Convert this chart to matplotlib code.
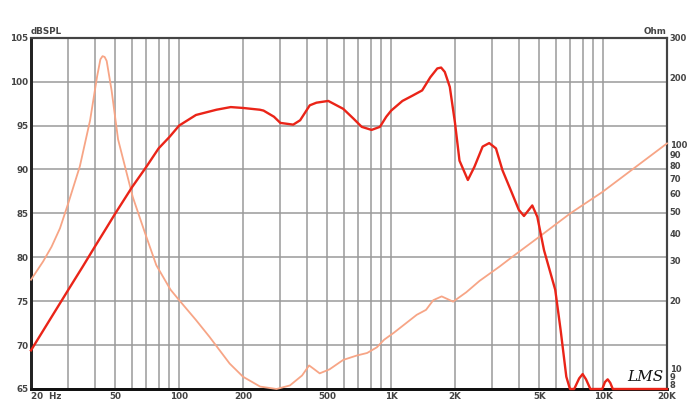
import matplotlib.pyplot as plt
import matplotlib.transforms as mtransforms
import numpy as np
from matplotlib.ticker import FixedLocator, NullFormatter, NullLocator

# SPL response (dB)
spl_freq = [20, 25, 30, 35, 40, 45, 50, 60, 70, 80, 90, 100, 120, 150, 175, 200,
            240, 250, 280, 300, 345, 372, 413, 444, 505, 594, 663, 726, 808, 885,
            948, 1000, 1130, 1260, 1400, 1530, 1650, 1720, 1790, 1890, 2000, 2100,
            2300, 2470, 2700, 2900, 3120, 3350, 3670, 4000, 4230, 4630, 4890, 5260,
            5940, 6300, 6700, 6970, 7300, 7700, 8000, 8300, 8700, 9900, 10200,
            10500, 10800, 11100, 20000]
spl_db = [69.4, 73.2, 76.3, 78.9, 81.2, 83.2, 85.0, 88.0, 90.3, 92.4, 93.7, 95.0,
          96.2, 96.8, 97.1, 97.0, 96.8, 96.7, 96.0, 95.3, 95.1, 95.6, 97.3, 97.6,
          97.8, 96.9, 95.8, 94.85, 94.5, 94.85, 96.0, 96.7, 97.8, 98.4, 99.0,
          100.5, 101.5, 101.6, 101.1, 99.4, 95.3, 91.0, 88.8, 90.3, 92.6, 93.0,
          92.4, 89.9, 87.6, 85.4, 84.7, 85.9, 84.6, 80.8, 76.3, 71.7, 66.4, 65.0,
          65.0, 66.2, 66.7, 66.1, 65.0, 65.0, 65.8, 66.1, 65.7, 65.0, 65.0]

# Impedance (Ohm)
imp_freq = [20, 22.8, 25, 27.4, 30, 34, 38, 41, 42.5, 43.5, 44.5, 45.5, 48, 51.5,
            60.4, 69, 78, 91, 100, 120, 139, 173, 200, 241, 288, 333, 380, 410, 428,
            460, 512, 594, 688, 770, 856, 926, 1030, 1320, 1460, 1580, 1730, 1960,
            2260, 2610, 3230, 3730, 5000, 7000, 9900, 20000]
imp_ohm = [24.7, 29.8, 34.7, 42, 54.5, 79.6, 128, 201, 240, 248, 246, 236, 174, 105,
           58, 40, 28.7, 22.3, 20, 16.3, 13.7, 10.4, 9.08, 8.2, 8.0, 8.3, 9.2, 10.2,
           9.9, 9.4, 9.8, 10.8, 11.3, 11.6, 12.3, 13.3, 14.3, 17.2, 18.1, 20.0,
           20.8, 19.7, 21.7, 24.4, 28.2, 31.3, 38.5, 49, 61, 100.8]

x_ticks = [20, 50, 100, 200, 500, 1000, 2000, 5000, 10000, 20000]
x_labels = ["20  Hz", "50", "100", "200", "500", "1K", "2K", "5K", "10K", "20K"]
y_ticks = [65, 70, 75, 80, 85, 90, 95, 100, 105]
ohm_ticks = [8, 9, 10, 20, 30, 40, 50, 60, 70, 80, 90, 100, 200, 300]

grid_col = "#9a9a9a"
lab_kw = dict(fontsize=6.3, fontweight="bold", color="#444444")

fig = plt.figure(figsize=(6.99, 4.15), dpi=100)
ax = fig.add_axes([31 / 699, 1 - 389 / 415, 636 / 699, 351.3 / 415])
ax2 = ax.twinx()

ax.set_xscale("log")
ax.set_xlim(20, 20000)
ax.set_ylim(65, 105)
ax.set_xticks(x_ticks)
ax.set_xticklabels(x_labels, **lab_kw)
ax.get_xticklabels()[0].set_ha("left")
minor = [m * d for d in (10, 100, 1000) for m in range(2, 10)]
ax.xaxis.set_minor_locator(FixedLocator([f for f in minor if 20 < f < 20000]))
ax.xaxis.set_minor_formatter(NullFormatter())
ax.set_yticks(y_ticks)
ax.set_yticklabels([str(v) for v in y_ticks], **lab_kw)
ax.tick_params(which="both", length=0, pad=2)
ax.grid(True, which="both", axis="x", color=grid_col, lw=1.1)
ax.grid(True, which="major", axis="y", color=grid_col, lw=1.1)
ax.set_axisbelow(True)

ax2.set_yscale("log")
ax2.set_ylim(8, 300)
ax2.yaxis.set_major_locator(FixedLocator(ohm_ticks))
ax2.yaxis.set_minor_locator(NullLocator())
ax2.set_yticklabels([str(v) for v in ohm_ticks], fontsize=6, fontweight="bold",
                    color="#444444")
ax2.tick_params(which="both", length=0, pad=2)
# nudge the crowded low labels apart a little
for lab, dy in zip(ax2.get_yticklabels()[:3], (4, 1.5, -1)):
    lab.set_transform(lab.get_transform() +
                      mtransforms.ScaledTranslation(0, dy / 100, fig.dpi_scale_trans))

ax2.plot(imp_freq, imp_ohm, color="#f7a586", lw=1.3, clip_on=False, zorder=3)
ax2.plot(spl_freq, [8 * 10 ** ((v - 65) / 40 * np.log10(300 / 8)) for v in spl_db],
         color="#ea2418", lw=1.7, clip_on=False, zorder=3)

for a in (ax, ax2):
    a.spines["left"].set_linewidth(2)
    a.spines["left"].set_color("#222222")
    a.spines["bottom"].set_linewidth(2)
    a.spines["bottom"].set_color("#111111")
    a.spines["top"].set_linewidth(1.5)
    a.spines["top"].set_color("#444444")
    a.spines["right"].set_linewidth(1.5)
    a.spines["right"].set_color("#444444")

fig.text(31 / 699, 1 - 31 / 415, "dBSPL", ha="left", va="center", **lab_kw)
fig.text(667 / 699, 1 - 31 / 415, "Ohm", ha="right", va="center", **lab_kw)
fig.text(627 / 699, 1 - 377 / 415, "LMS", ha="left", va="center", fontsize=11,
         fontstyle="italic", family="DejaVu Serif", color="#111111")

fig.savefig("out.png", dpi=100)
